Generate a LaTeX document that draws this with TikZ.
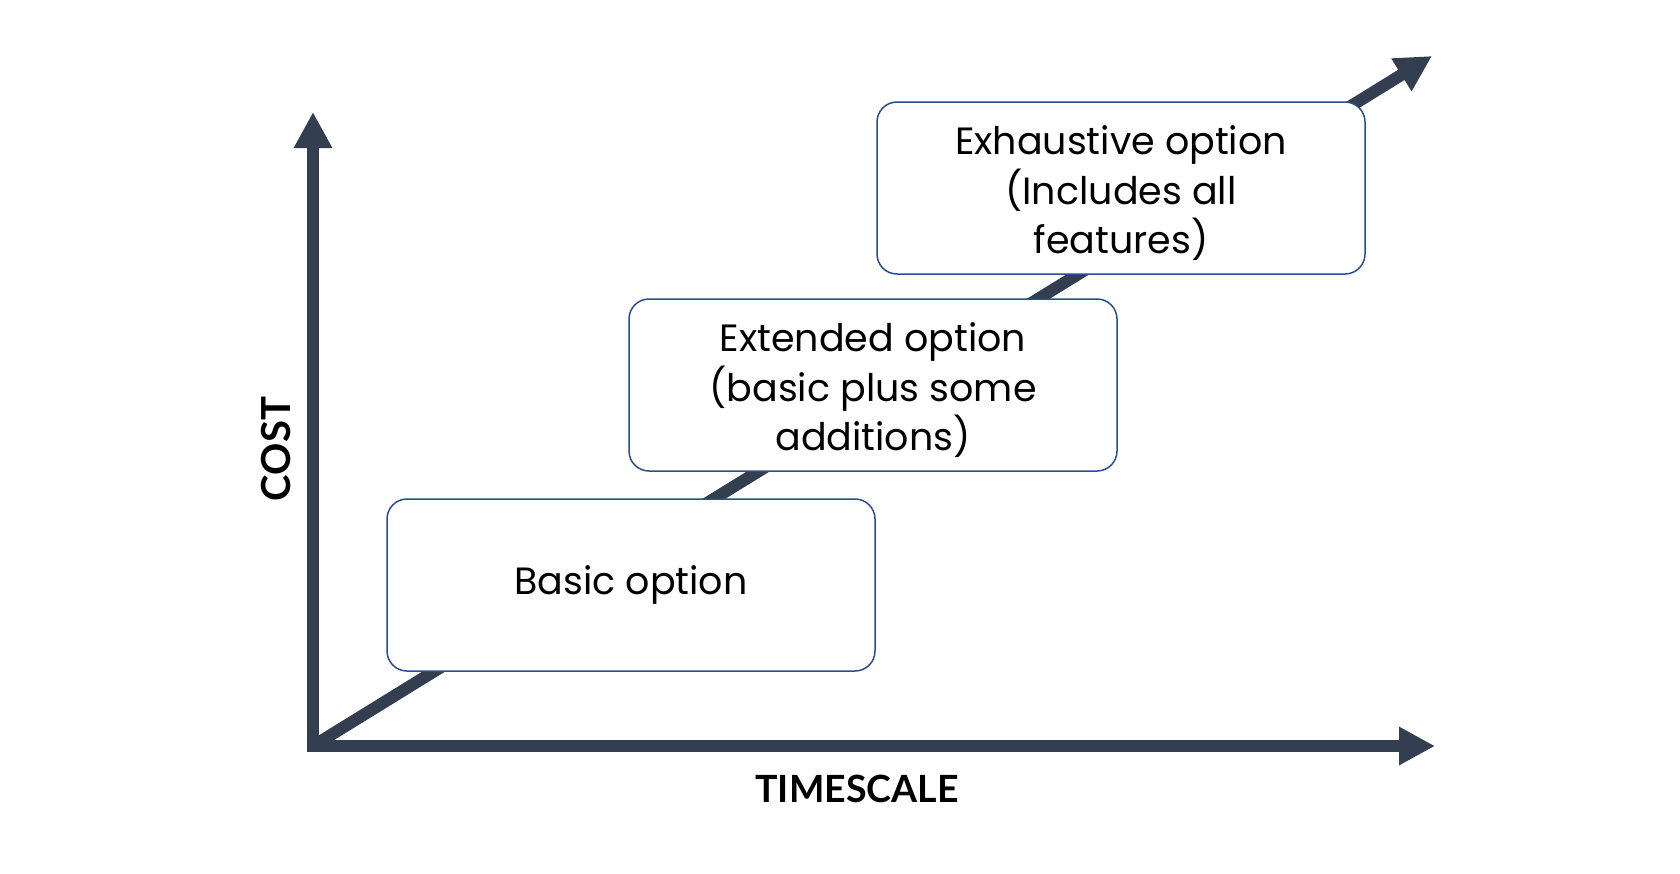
\documentclass[tikz,border=0pt]{standalone}
\usepackage{fontspec}
\setmainfont{Poppins}
\newfontfamily\labelfont{Lato}
\usetikzlibrary{arrows.meta}
\definecolor{axiscol}{HTML}{333F50}
\definecolor{boxcol}{HTML}{2A4D8F}
\newcommand\optlines[1]{\raisebox{-7pt}[\height][\depth]{\begin{tabular}{@{}c@{}}#1\end{tabular}}}
\tikzset{
  axisline/.style={draw=axiscol, line width=12pt, line join=miter},
  tip/.style={-{Triangle[length=36pt,width=36pt]}},
  optbox/.style={draw=boxcol, line width=1.5pt, fill=white, rounded corners=20pt,
    minimum width=488pt, minimum height=172pt, inner sep=0pt, align=center,
    font=\fontsize{38}{47}\selectfont},
  axlabel/.style={font=\labelfont\bfseries\fontsize{40}{40}\selectfont, inner sep=0pt}
}
\begin{document}
\begin{tikzpicture}[x=1pt,y=-1pt]
\useasboundingbox[fill=white] (0,0) rectangle (1680,873);
\coordinate (orig) at (313,746);
\coordinate (ytip) at (313,112);
\coordinate (xtip) at (1435,746);
\coordinate (dtip) at (1432,56);
% diagonal growth arrow
\draw[axisline, tip] (orig) -- (dtip);
% axes
\draw[axisline, {Triangle[length=36pt,width=36pt]}-{Triangle[length=36pt,width=36pt]}] (ytip) -- (orig) -- (xtip);
% option boxes
\node[optbox] (b1) at (631,585) {Basic option};
\node[optbox] (b2) at (873,385) {\optlines{Extended option\\(basic plus some\\additions)}};
\node[optbox] (b3) at (1121,188) {\optlines{Exhaustive option\\(Includes all\\features)}};
% axis labels
\node[axlabel, rotate=90] (cost) at (276,449) {COST};
\node[axlabel, font=\labelfont\bfseries\fontsize{37.5}{40}\selectfont] (time) at (857,789) {TIMESCALE};
\end{tikzpicture}
\end{document}
